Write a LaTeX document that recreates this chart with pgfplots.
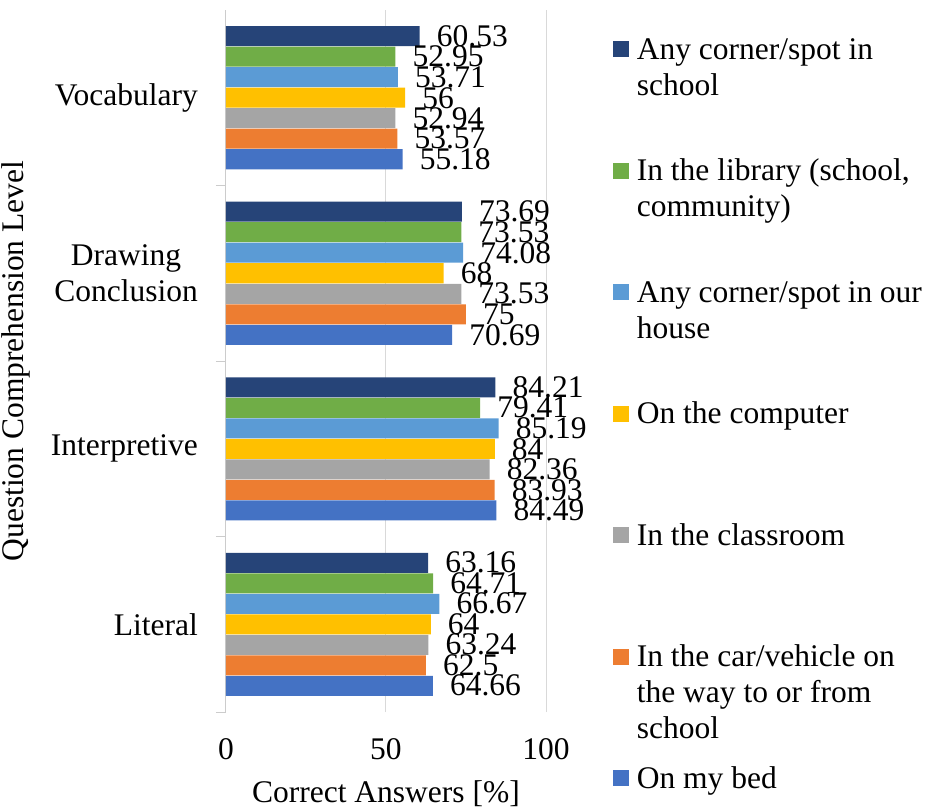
\documentclass[border=0pt]{standalone}
\usepackage{fontspec}
\setmainfont{Liberation Serif}
\usepackage{pgfplots}
\pgfplotsset{compat=1.18}

\definecolor{cSchool}{HTML}{264478}
\definecolor{cLibrary}{HTML}{70AD47}
\definecolor{cHouse}{HTML}{5B9BD5}
\definecolor{cComputer}{HTML}{FFC000}
\definecolor{cClass}{HTML}{A5A5A5}
\definecolor{cCar}{HTML}{ED7D31}
\definecolor{cBed}{HTML}{4472C4}

\pgfplotsset{
  sq/.style={fill=#1, draw=none,
    legend image code/.code={\fill[#1] (0bp,2bp) rectangle (16bp,18bp);}},
}

\begin{document}
\fontsize{31.5bp}{36bp}\selectfont
\begin{tikzpicture}
\begin{axis}[
  name=ax,
  scale only axis,
  width=320bp, height=702bp,
  xbar=0.5bp,
  bar width=20bp,
  xmin=0, xmax=100,
  ymin=-0.5, ymax=3.5,
  xtick={0,50,100},
  ytick={0,1,2,3},
  yticklabels={Literal, Interpretive, {Drawing\\Conclusion}, Vocabulary},
  minor ytick={-0.5,0.5,1.5,2.5},
  major tick length=0pt,
  minor tick length=10bp,
  tick align=outside,
  tick style={draw=gray!40, line width=1bp},
  axis y line*=left,
  axis x line*=bottom,
  x axis line style={draw=none},
  y axis line style={draw=gray!40, line width=1bp},
  xmajorgrids,
  major grid style={draw=gray!30, line width=1bp},
  /pgf/number format/assume math mode=true,
  xticklabel style={anchor=base, yshift=-47bp},
  yticklabel style={align=center, anchor=east, inner sep=0pt, xshift=-28bp},
  xlabel={Correct Answers [\%]},
  ylabel={Question Comprehension Level},
  every axis x label/.style={at={(axis description cs:0.5,-0.1296)}, anchor=base},
  every axis y label/.style={at={(axis description cs:-0.657,0.5)}, rotate=90, anchor=center},
  point meta=x,
  nodes near coords={\pgfmathprintnumber{\pgfplotspointmeta}},
  nodes near coords style={anchor=west, inner sep=0pt, xshift=17bp,
    /pgf/number format/assume math mode=true, text=black},
  clip=false,
  reverse legend,
  legend style={at={(axis description cs:1.209,0.9615)}, anchor=north west,
    draw=none, fill=none, inner sep=0pt, outer sep=0pt,
    row sep=0pt, column sep=8bp,
    cells={anchor=base west},
    nodes={inner sep=0pt, text height=22bp, text depth=99.5bp}},
]
\addplot[sq=cBed] coordinates {(55.18,3) (70.69,2) (84.49,1) (64.66,0)};
\addlegendentry{\parbox[t]{285bp}{On my bed}}
\addplot[sq=cCar] coordinates {(53.57,3) (75,2) (83.93,1) (62.5,0)};
\addlegendentry{\parbox[t]{285bp}{In the car/vehicle on\\the way to or from\\school}}
\addplot[sq=cClass] coordinates {(52.94,3) (73.53,2) (82.36,1) (63.24,0)};
\addlegendentry{\parbox[t]{285bp}{In the classroom}}
\addplot[sq=cComputer] coordinates {(56,3) (68,2) (84,1) (64,0)};
\addlegendentry{\parbox[t]{285bp}{On the computer}}
\addplot[sq=cHouse] coordinates {(53.71,3) (74.08,2) (85.19,1) (66.67,0)};
\addlegendentry{\parbox[t]{285bp}{Any corner/spot in our\\house}}
\addplot[sq=cLibrary] coordinates {(52.95,3) (73.53,2) (79.41,1) (64.71,0)};
\addlegendentry{\parbox[t]{285bp}{In the library (school,\\community)}}
\addplot[sq=cSchool] coordinates {(60.53,3) (73.69,2) (84.21,1) (63.16,0)};
\addlegendentry{\parbox[t]{285bp}{Any corner/spot in\\school}}
\end{axis}
\pgfresetboundingbox
\path (ax.south west) ++(-226bp,-100bp) rectangle ++(932bp,812bp);
\end{tikzpicture}
\end{document}
